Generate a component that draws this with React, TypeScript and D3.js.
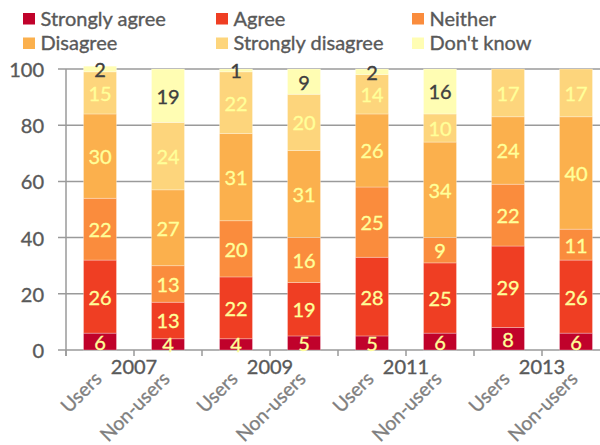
import React from "react";
import * as d3 from "d3";

const categories = ["Users", "Non-users", "Users", "Non-users", "Users", "Non-users", "Users", "Non-users"];
const years = ["2007", "2009", "2011", "2013"];
const seriesNames = ["Strongly agree", "Agree", "Neither", "Disagree", "Strongly disagree", "Don't know"];
const seriesColors = ["#C0022B", "#EF3E23", "#FA8C3D", "#FBB04D", "#FDD57C", "#FFFDB3"];
const labelColors = ["#FFFF99", "#FFFF99", "#FFFF99", "#FFFF99", "#FFFF99", "#404040"];

const stronglyAgree = [6, 4, 4, 5, 5, 6, 8, 6];
const agree = [26, 13, 22, 19, 28, 25, 29, 26];
const neither = [22, 13, 20, 16, 25, 9, 22, 11];
const disagree = [30, 27, 31, 31, 26, 34, 24, 40];
const stronglyDisagree = [15, 24, 22, 20, 14, 10, 17, 17];
const dontKnow = [2, 19, 1, 9, 2, 16, 0, 0];

const yTicks = [0, 20, 40, 60, 80, 100];

const W = 600;
const H = 445;
const FONT = "Lato, 'Open Sans', sans-serif";

export default function App() {
  const series = [stronglyAgree, agree, neither, disagree, stronglyDisagree, dontKnow];
  const keys = seriesNames;
  const rows = categories.map((c, i) => {
    const r: any = { idx: i };
    keys.forEach((k, s) => (r[k] = series[s][i]));
    return r;
  });
  const stacked = d3.stack<any>().keys(keys)(rows);

  const x = d3
    .scaleBand<number>()
    .domain(categories.map((_, i) => i))
    .range([66, 610])
    .paddingInner(0.515)
    .paddingOuter(0.2575);
  const y = d3.scaleLinear().domain([0, 100]).range([350, 69]);
  const step = x.step();
  const x0 = 66;

  const legendCols = [23, 216, 412];
  const legendRows = [13, 37.5];
  const heavy = { stroke: "currentColor", strokeWidth: 0.35 };

  return (
    <svg
      width={W}
      height={H}
      style={{ position: "absolute", left: 0, top: 0, overflow: "hidden" }}
      fontFamily={FONT}
    >
      <rect width={W} height={H} fill="#fff" />
      {/* gridlines */}
      {yTicks.map((t) => (
        <g key={t}>
          <line x1={58} x2={W} y1={y(t)} y2={y(t)} stroke="#9a9a9a" strokeWidth={1.5} />
          <text
            x={44}
            y={y(t)}
            textAnchor="end"
            dominantBaseline="central"
            fontSize={20}
            fill="#595959"
            color="#595959"
            {...heavy}
          >
            {t}
          </text>
        </g>
      ))}
      {/* y axis line */}
      <line x1={x0} x2={x0} y1={y(100)} y2={y(0) + 6} stroke="#9a9a9a" strokeWidth={1.5} />
      {/* x ticks */}
      {d3.range(categories.length + 1).map((i) => (
        <line
          key={i}
          x1={x0 + step * i}
          x2={x0 + step * i}
          y1={y(0)}
          y2={y(0) + 6}
          stroke="#9a9a9a"
          strokeWidth={1.5}
        />
      ))}
      {/* bars */}
      {stacked.map((layer, s) => (
        <g key={s}>
          {layer.map((d, i) =>
            d[1] - d[0] > 0 ? (
              <rect
                key={i}
                x={x(i)}
                width={x.bandwidth()}
                y={y(d[1])}
                height={y(d[0]) - y(d[1])}
                fill={seriesColors[s]}
                stroke="#ffffff"
                strokeOpacity={0.35}
                strokeWidth={0.8}
              />
            ) : null
          )}
        </g>
      ))}
      {/* data labels */}
      {stacked.map((layer, s) => (
        <g key={"l" + s}>
          {layer.map((d, i) =>
            d[1] - d[0] > 0 ? (
              <text
                key={i}
                x={(x(i) as number) + x.bandwidth() / 2}
                y={y((d[0] + d[1]) / 2)}
                textAnchor="middle"
                dominantBaseline="central"
                fontSize={20}
                fill={labelColors[s]}
                color={labelColors[s]}
                {...heavy}
              >
                {d[1] - d[0]}
              </text>
            ) : null
          )}
        </g>
      ))}
      {/* category labels */}
      {categories.map((c, i) => (
        <text
          key={i}
          transform={`translate(${(x(i) as number) + x.bandwidth() / 2 + 3},${380}) rotate(-45)`}
          textAnchor="end"
          fontSize={19.5}
          fill="#7f7f7f"
          color="#7f7f7f"
          {...heavy}
        >
          {c}
        </text>
      ))}
      {/* year labels */}
      {years.map((yr, k) => (
        <text
          key={yr}
          x={x0 + step * (2 * k + 1)}
          y={374}
          textAnchor="middle"
          fontSize={20}
          fill="#595959"
          color="#595959"
          {...heavy}
        >
          {yr}
        </text>
      ))}
      {/* legend */}
      {seriesNames.map((n, s) => {
        const cx = legendCols[s % 3];
        const ry = legendRows[Math.floor(s / 3)];
        return (
          <g key={n}>
            <rect x={cx} y={ry} width={12} height={11.5} fill={seriesColors[s]} />
            <text
              x={cx + 17.5}
              y={ry + 12.5}
              fontSize={20}
              fill="#595959"
              color="#595959"
              {...heavy}
            >
              {n}
            </text>
          </g>
        );
      })}
    </svg>
  );
}
